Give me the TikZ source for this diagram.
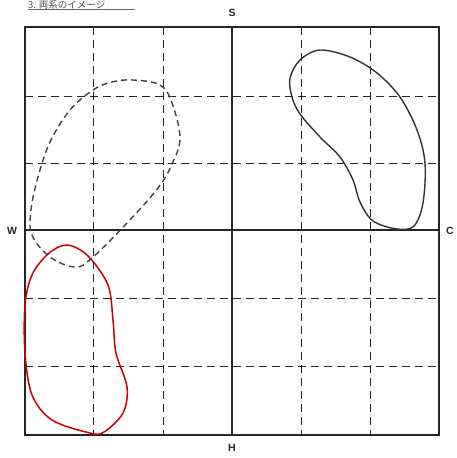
\documentclass[tikz,border=0pt]{standalone}
\usepackage{fontspec}
\setmainfont{Liberation Sans}
\newfontfamily\cjk{Noto Sans CJK JP}
\begin{document}
\begin{tikzpicture}[x=1pt,y=-1pt,
  frame/.style={draw=black!85,line width=1.2pt},
  gridline/.style={draw=black!85,line width=1pt,dash pattern=on 8pt off 5pt},
  axislabel/.style={font=\bfseries\fontsize{10.5}{10.5}\selectfont,text=black!85,inner sep=0pt},
  blob/.style={line width=1.4pt,line join=round}]
\useasboundingbox (0,0) rectangle (457,458);
% title
\node[inner sep=0pt,anchor=south west,text=black!70] (title) at (28,9) {\cjk\fontsize{9.5}{9.5}\selectfont 3. 両系のイメージ};
\draw[black!60,line width=0.8pt] (title.south west) ++(0,0.6) -- ++(107,0);
% dashed grid
\foreach \x in {93,163,301,370} \draw[gridline] (\x,27) -- (\x,435);
\foreach \y in {96,163,298,366} \draw[gridline] (25,\y) -- (439,\y);
% axes
\coordinate (top) at (232,27);
\coordinate (bot) at (232,435);
\coordinate (lft) at (25,230);
\coordinate (rgt) at (439,230);
\draw[frame] (top) -- (bot);
\draw[frame] (lft) -- (rgt);
\draw[frame] (25,27) rectangle (439,435);
% labels
\node[axislabel] (S) at (232,13) {S};
\node[axislabel] (W) at (12,231) {W};
\node[axislabel] (C) at (450,231) {C};
\node[axislabel] (H) at (232,448) {H};
% dashed blob
\draw[blob,black!75,dash pattern=on 6pt off 4pt] plot[smooth cycle,tension=0.6] coordinates {
 (133,80) (160,85) (172,103) (180,138) (172,164) (158,188) (127,223) (92,258)
 (75,267) (50,257) (32,235) (31,210) (38,177) (50,142) (70,110) (93,90) (112,82)};
% solid black blob
\draw[blob,black!80] plot[smooth cycle,tension=0.55] coordinates {
 (290,78) (300,60) (320,50) (350,57) (377,73) (400,97) (417,130) (425,163)
 (423,203) (414,226) (397,229) (373,221) (360,202) (353,180) (340,157)
 (320,137) (300,114) (292,97)};
% red blob
\draw[blob,red!80!black,line width=1.5pt] plot[smooth cycle,tension=0.55] coordinates {
 (67,245) (88,256) (108,285) (113,320) (116,353) (127,387) (123,413) (104,432)
 (90,433) (52,420) (32,395) (25,353) (25,305) (32,275) (48,254)};
\end{tikzpicture}
\end{document}
